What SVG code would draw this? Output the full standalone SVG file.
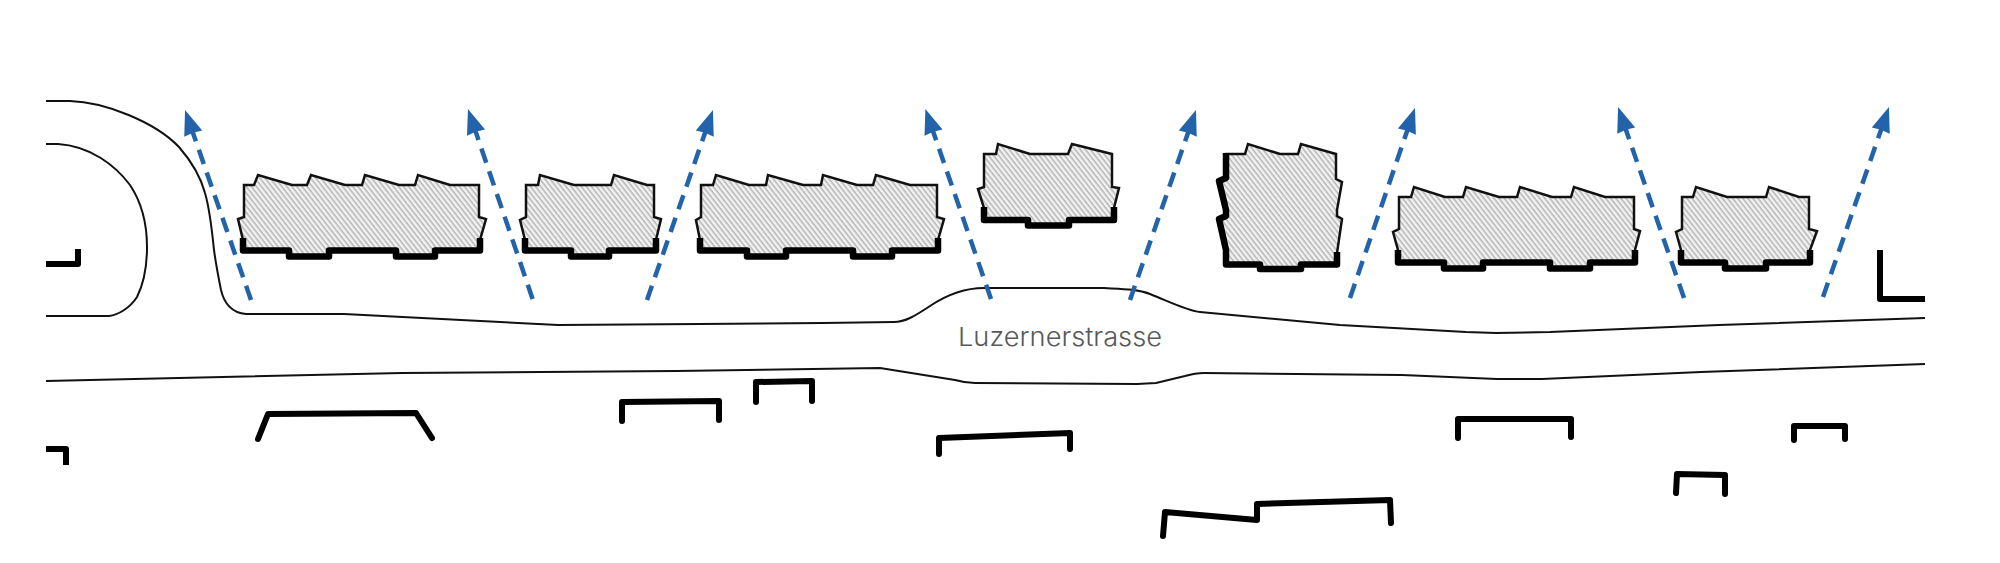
<svg xmlns="http://www.w3.org/2000/svg" width="2000" height="563" viewBox="0 0 2000 563">
<style>
.road{fill:none;stroke:#111;stroke-width:2}
.body{fill:url(#hatch);stroke:#111;stroke-width:2.5;stroke-linejoin:miter}
.wall{fill:none;stroke:#000;stroke-width:6.500;stroke-linejoin:round}
.mark{fill:none;stroke:#000;stroke-width:6;stroke-linejoin:round;stroke-linecap:round}
.flat{stroke-linecap:butt}
.view{fill:none;stroke:#2263a9;stroke-width:4.500;stroke-dasharray:15 9;marker-end:url(#head)}
.label{font-family:"Inter","Lato",sans-serif;font-weight:300;font-size:26px;fill:#595959}
</style>
<defs>
<pattern id="hatch" width="4" height="4" patternUnits="userSpaceOnUse" patternTransform="rotate(52)">
<rect width="4" height="4" fill="#f2f2f2"/>
<rect width="4" height="1.500" fill="#b4b4b4"/>
</pattern>
<marker id="head" markerUnits="userSpaceOnUse" markerWidth="32" markerHeight="26" viewBox="-8 -13 32 26" refX="0" refY="0" orient="auto">
<path d="M20,0 L-5,-9.500 L-4,0 L-5,9.500 Z" fill="#2263a9"/>
</marker>
</defs>
<rect width="2000" height="563" fill="#fff"/>
<g id="roads">
<path class="road" d="M46,101 H70 C105,102 155,122 179,147 C192,162 201,178 205,193 C210,210 212,230 214,250 C216,265 219,280 221,290 C224,303 232,313 246,314 H344 L558,325 L700,324 L823,323 L894,322 C905,322 915,316 930,306 C945,296 965,288 984,288 H1104 C1122,289 1137,289 1150,294 C1170,302 1188,311 1200,312 L1340,325 L1466,332 L1496,333 L1550,332 L1719,325 L1925,318"/>
<path class="road" d="M46,144 H58 C90,146 115,165 130,185 C142,203 147,225 147,247 C147,270 143,285 137,297 C130,308 118,315 109,316 H46"/>
<path class="road" d="M46,381 L402,373 L676,371 L880,368 L955,380 C962,382 968,383 975,383 L1137,384 L1156,383 L1185,376 C1192,374 1198,373 1204,373 L1402,375 L1497,379 L1542,379 L1701,372 L1925,364"/>
</g>
<g id="building-1">
<path class="body" d="M244,185 H254 L258,175 L292,185 H307 L311,175 L345,185 H362 L365,175 L399,185 H415 L418,175 L450,185 H479 V217 L486,219 L480,240 V250 H435 V257 H396 V250 H329 V257 H289 V250 H243 V240 L238,219 L244,217 Z"/>
<path class="wall" d="M243,238 V250.500 H289 V256.500 H329 V250.500 H396 V256.500 H435 V250.500 H480 V238"/>
</g>
<g id="building-2">
<path class="body" d="M526,185 H538 L540,175 L574,185 H611 L614,175 L647,185 H654 V217 L661,219 L656,240 V250 H609 V257 H571 V250 H525 V240 L520,220 L526,217 Z"/>
<path class="wall" d="M525,238 V250.500 H571 V256.500 H609 V250.500 H656 V238"/>
</g>
<g id="building-3">
<path class="body" d="M701,185 H713 L716,175 L749,185 H766 L768,175 L803,185 H821 L823,175 L857,185 H873 L876,175 L910,185 H937 V217 L944,219 L938,240 V250 H892 V257 H853 V250 H786 V257 H747 V250 H700 V240 L696,220 L701,217 Z"/>
<path class="wall" d="M700,238 V250.500 H747 V256.500 H786 V250.500 H853 V256.500 H892 V250.500 H938 V238"/>
</g>
<g id="building-4">
<path class="body" d="M984,154 H996 L998,144 L1030,154 H1068 L1072,144 L1112,154 V187 L1119,188 L1114,208 V220 H1069 V226 H1028 V220 H984 V208 L978,189 L984,187 Z"/>
<path class="wall" d="M984,207 V220 H1028 V225.500 H1069 V220 H1114 V207"/>
</g>
<g id="building-5">
<path class="body" d="M1226,154 H1245 L1248,144 L1280,154 H1298 L1301,144 L1336,154 V179 L1342,182 L1337,210 V216 L1342,219 L1337,253 V265 H1301 V269 H1260 V265 H1226 V250 L1219,219 L1226,216 V210 L1219,181 L1226,178 Z"/>
<path class="wall" d="M1226,153 V178 L1219,181 L1226,210 V216 L1219,219 L1226,250 V264.500 H1260 V269 H1301 V264.500 H1337 V252"/>
</g>
<g id="building-6">
<path class="body" d="M1399,197 H1411 L1414,187 L1445,197 H1463 L1466,187 L1499,197 H1517 L1520,187 L1552,197 H1571 L1574,187 L1605,197 H1634 V229 L1640,231 L1635,250 V262 H1590 V269 H1550 V262 H1483 V269 H1444 V262 H1398 V250 L1393,232 L1399,229 Z"/>
<path class="wall" d="M1398,250 V262.500 H1444 V268.500 H1483 V262.500 H1550 V268.500 H1590 V262.500 H1635 V250"/>
</g>
<g id="building-7">
<path class="body" d="M1682,197 H1693 L1696,187 L1727,197 H1766 L1769,187 L1799,197 H1809 V229 L1817,231 L1810,250 V262 H1766 V269 H1725 V262 H1681 V250 L1676,232 L1682,229 Z"/>
<path class="wall" d="M1681,250 V262.500 H1725 V268.500 H1766 V262.500 H1810 V250"/>
</g>
<g id="outlines">
<path class="mark flat" d="M46,264 H78 V249"/>
<path class="mark flat" d="M1880,250 V299 H1925"/>
<path class="mark flat" d="M46,449 H66 V465"/>
<path class="mark" d="M258,439 L268,414 L416,413 L432,438"/>
<path class="mark" d="M622,421 V402 L719,401 V420"/>
<path class="mark" d="M756,402 V382 L812,381 V401"/>
<path class="mark" d="M939,454 V438 L1070,433 V449"/>
<path class="mark" d="M1163,536 L1165,512 L1257,520 V504 L1390,500 L1391,523"/>
<path class="mark" d="M1458,438 V419 H1571 V437"/>
<path class="mark" d="M1794,440 V426 H1845 V439"/>
<path class="mark" d="M1676,493 L1677,474 L1725,475 V494"/>
</g>
<g id="connectors">
<path class="view" d="M251,300 L191.600,128.900"/>
<path class="view" d="M532.600,299 L474.400,127.900"/>
<path class="view" d="M647,300 L706.400,128.900"/>
<path class="view" d="M991,299 L931.900,127.900"/>
<path class="view" d="M1130,300 L1189.400,128.900"/>
<path class="view" d="M1350,298 L1408.500,126.900"/>
<path class="view" d="M1684,298 L1624.600,125.900"/>
<path class="view" d="M1823,297 L1882.400,125.900"/>
</g>
<text class="label" x="958" y="345.500" textLength="204" lengthAdjust="spacingAndGlyphs">Luzernerstrasse</text>
</svg>
